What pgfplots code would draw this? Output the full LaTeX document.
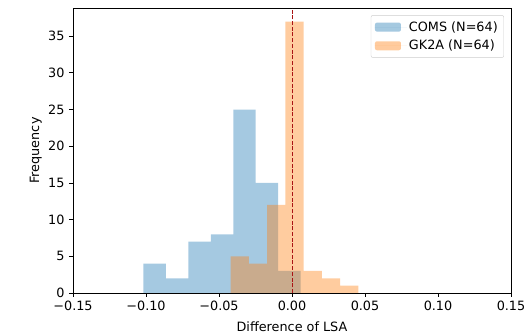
\documentclass[border=0pt]{standalone}
\usepackage{pgfplots}
\pgfplotsset{compat=1.18}
\usepackage{fontspec}
\setmainfont{DejaVu Sans}
\definecolor{mplblue}{RGB}{31,119,180}
\definecolor{mplorange}{RGB}{255,127,14}
\definecolor{vline}{RGB}{170,20,20}
\begin{document}
\fontsize{12.8}{15}\selectfont
\begin{tikzpicture}[font=\fontsize{12.8}{15}\selectfont]
\begin{axis}[
  scale only axis,
  width=438pt, height=285pt,
  xmin=-0.15, xmax=0.15,
  ymin=0, ymax=38.85,
  xtick={-0.15,-0.10,-0.05,0,0.05,0.10,0.15},
  xticklabels={−0.15,−0.10,−0.05,0.00,0.05,0.10,0.15},
  ytick={0,5,10,15,20,25,30,35},
  yticklabels={0,5,10,15,20,25,30,35},
  tick align=outside,
  major tick length=4pt,
  xtick pos=left, ytick pos=left,
  axis line style={line width=0.9pt},
  tick style={line width=0.9pt, black},
  xlabel={Difference of LSA},
  ylabel={Frequency},
  xlabel style={at={(axis description cs:0.5,-0.1368)}, anchor=base},
  ylabel style={at={(axis description cs:-0.0776,0.5)}, anchor=base, rotate=0},
  legend cell align=left,
  legend style={at={(axis description cs:0.984,0.975)}, anchor=north east,
    rounded corners=2pt, draw=black!20, fill=white, fill opacity=0.8, text opacity=1,
    row sep=3pt, inner sep=4pt,
    font=\fontsize{12.8}{15}\selectfont},
  legend image code/.code={\fill[#1] (0pt,-4.5pt) rectangle (26pt,4.5pt); \path (0pt,0pt) -- (32pt,0pt);},
]
\addplot[ybar interval, fill=mplblue, fill opacity=0.4, draw=none] table {
x y
-0.1018 4
-0.0864 2
-0.0710 7
-0.0556 8
-0.0402 25
-0.0249 15
-0.0095 3
0.0059 3
};
\addlegendentry{COMS (N=64)}
\addplot[ybar interval, fill=mplorange, fill opacity=0.4, draw=none] table {
x y
-0.0420 5
-0.0295 4
-0.0170 12
-0.0045 37
0.0080 3
0.0205 2
0.0329 1
0.0454 1
};
\addlegendentry{GK2A (N=64)}
\addplot[vline, line width=1pt, dash pattern=on 4pt off 1.7pt, forget plot] coordinates {(0,0) (0,38.85)};
\end{axis}
\pgfresetboundingbox
\useasboundingbox (current axis.south west) ++(-73pt,-43pt) rectangle ++(527pt,336pt);
\end{tikzpicture}
\end{document}
